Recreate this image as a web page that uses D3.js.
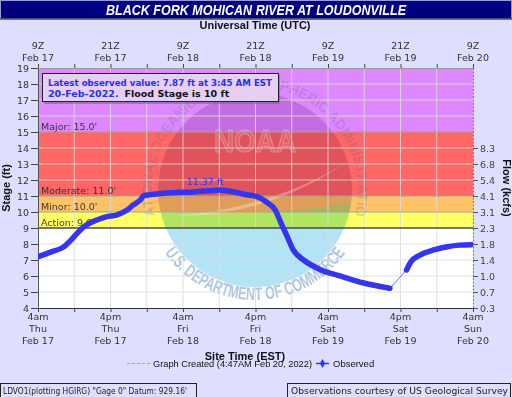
<!DOCTYPE html>
<html>
<head>
<meta charset="utf-8">
<script src="https://cdn.jsdelivr.net/npm/d3@7"></script>
<style>
  body { margin: 0; background: #dedeff; }
  svg { display: block; font-family: "DejaVu Sans", sans-serif; }
</style>
</head>
<body>
<div id="chart"></div>
<script>
// observed stage, EST times
var obsTimesA = [
  "2022-02-17T04:00", "2022-02-17T06:00", "2022-02-17T08:15", "2022-02-17T09:45",
  "2022-02-17T11:00", "2022-02-17T12:00", "2022-02-17T13:45", "2022-02-17T15:15",
  "2022-02-17T17:00", "2022-02-17T18:45", "2022-02-17T19:45", "2022-02-17T21:00",
  "2022-02-17T21:30", "2022-02-18T00:45", "2022-02-18T06:15", "2022-02-18T09:00",
  "2022-02-18T10:00", "2022-02-18T11:45", "2022-02-18T14:30", "2022-02-18T16:15",
  "2022-02-18T17:45", "2022-02-18T19:15", "2022-02-18T20:15", "2022-02-18T21:15",
  "2022-02-18T22:15", "2022-02-18T23:45", "2022-02-19T02:00", "2022-02-19T03:30",
  "2022-02-19T05:30", "2022-02-19T09:45", "2022-02-19T14:15"
];
var obsStageA = [
  7.20, 7.48, 7.82, 8.36,
  8.88, 9.19, 9.50, 9.70,
  9.81, 10.12, 10.44, 10.78,
  11.02, 11.17, 11.27, 11.35,
  11.37, 11.30, 11.08, 10.96,
  10.64, 10.13, 9.29, 8.46,
  7.63, 7.05, 6.53, 6.27,
  6.06, 5.58, 5.23
];
var obsTimesB = [
  "2022-02-19T17:00", "2022-02-19T17:45", "2022-02-19T19:15", "2022-02-19T21:30",
  "2022-02-19T23:45", "2022-02-20T01:45", "2022-02-20T03:45"
];
var obsStageB = [6.38, 6.90, 7.31, 7.63, 7.83, 7.93, 7.96];

var stageTicks = [4, 5, 6, 7, 8, 9, 10, 11, 12, 13, 14, 15, 16, 17, 18, 19];
var flowTicks = [4, 5, 6, 7, 8, 9, 10, 11, 12, 13, 14];
var flowLabels = ["0.3", "0.7", "1.0", "1.4", "1.8", "2.3", "3.1", "4.1", "5.4", "6.8", "8.3"];

var floodNames = ["Action", "Minor", "Moderate", "Major"];
var floodStages = [9, 10, 11, 15];
var floodColors = ["#ffff66", "#ffc266", "#ff6666", "#dd88ff"];

var peakTime = "2022-02-18T10:00";
var peakStage = 11.37;

var parseEst = d3.utcParse("%Y-%m-%dT%H:%M");
var segA = obsTimesA.map((t, i) => ({ t: parseEst(t), v: obsStageA[i] }));
var segB = obsTimesB.map((t, i) => ({ t: parseEst(t), v: obsStageB[i] }));

var width = 512, height = 397;
var plotL = 38, plotR = 473, plotT = 68, plotB = 308;

var svg = d3.select("#chart").append("svg")
  .attr("width", width)
  .attr("height", height);

svg.append("rect").attr("width", width).attr("height", height).attr("fill", "#dedeff");

var start = parseEst("2022-02-17T04:00");
var end = parseEst("2022-02-20T04:00");

var x = d3.scaleUtc().domain([start, end]).range([plotL, plotR]);
var y = d3.scaleLinear().domain([4, 19]).range([plotB, plotT]);

// title bar
svg.append("rect").attr("x", 0.5).attr("y", 0.5).attr("width", width - 1).attr("height", 18)
  .attr("fill", "#000080").attr("stroke", "#9a9ad8");
svg.append("line").attr("x1", 0).attr("x2", width).attr("y1", 19).attr("y2", 19).attr("stroke", "#000");
svg.append("text")
  .attr("x", 256).attr("y", 15)
  .attr("text-anchor", "middle")
  .attr("fill", "#fff")
  .attr("font-family", "Liberation Sans, Arial, sans-serif")
  .attr("font-weight", "bold").attr("font-style", "italic")
  .attr("font-size", 14)
  .attr("textLength", 300).attr("lengthAdjust", "spacingAndGlyphs")
  .text("BLACK FORK MOHICAN RIVER AT LOUDONVILLE");

svg.append("text")
  .attr("x", 255).attr("y", 29)
  .attr("text-anchor", "middle")
  .attr("font-family", "Liberation Sans, Arial, sans-serif")
  .attr("font-weight", "bold").attr("font-size", 11)
  .attr("fill", "#111")
  .text("Universal Time (UTC)");

// plot background + flood bands
var plot = svg.append("g");
plot.append("rect").attr("x", plotL).attr("y", plotT)
  .attr("width", plotR - plotL).attr("height", plotB - plotT).attr("fill", "#fff");

var bandTops = floodStages.slice(1).concat([19]);
plot.selectAll(".band")
  .data(floodStages)
  .enter()
  .append("rect")
  .attr("class", "band")
  .attr("x", plotL)
  .attr("width", plotR - plotL)
  .attr("y", (d, i) => y(bandTops[i]))
  .attr("height", (d, i) => y(d) - y(bandTops[i]))
  .attr("fill", (d, i) => floodColors[i]);

// NOAA watermark
svg.append("clipPath").attr("id", "plotclip")
  .append("rect").attr("x", plotL).attr("y", plotT).attr("width", plotR - plotL).attr("height", plotB - plotT);
var cx = 255, cy = 190, r = 97;
svg.append("clipPath").attr("id", "diskclip")
  .append("circle").attr("cx", cx).attr("cy", cy).attr("r", r);

var wm = svg.append("g");
wm.append("path")
  .attr("clip-path", "url(#diskclip)")
  .attr("d", `M${cx - r},${cy - r} L${cx + r},${cy - r} L${cx + r},${cy + 12} Q${cx},${cy + 30} ${cx - r},${cy + 22} Z`)
  .attr("fill", "#e0cfe0").style("mix-blend-mode", "multiply");
wm.append("path")
  .attr("clip-path", "url(#diskclip)")
  .attr("d", `M${cx - r},${cy + 22} Q${cx},${cy + 30} ${cx + r},${cy + 12} L${cx + r},${cy + r} L${cx - r},${cy + r} Z`)
  .attr("fill", "#b2e4f6").style("mix-blend-mode", "multiply");
wm.append("path")
  .attr("clip-path", "url(#diskclip)")
  .attr("d", `M${cx - 80},${cy + 26} Q${cx + 10},${cy + 28} ${cx + 95},${cy - 30} Q${cx + 20},${cy + 18} ${cx - 80},${cy + 26} Z`)
  .attr("fill", "#fff").attr("opacity", 0.3);
wm.append("text")
  .attr("x", cx).attr("y", 152)
  .attr("text-anchor", "middle")
  .attr("font-family", "Liberation Sans, Arial, sans-serif")
  .attr("font-weight", "bold").attr("font-size", 32)
  .attr("fill", "#fff").attr("fill-opacity", 0.1)
  .attr("stroke", "#fff").attr("stroke-opacity", 0.25).attr("stroke-width", 1.2)
  .attr("textLength", 82).attr("lengthAdjust", "spacingAndGlyphs")
  .text("NOAA");

function polar(rad, deg) {
  var a = deg * Math.PI / 180;
  return [cx + rad * Math.cos(a), cy + rad * Math.sin(a)];
}
var rt = 103, p1 = polar(rt, 165), p2 = polar(rt, 15);
svg.append("path").attr("id", "toparc").attr("fill", "none")
  .attr("d", `M${p1[0]},${p1[1]} A${rt},${rt} 0 1 1 ${p2[0]},${p2[1]}`);
var rb = 110, q1 = polar(rb, 150), q2 = polar(rb, 30);
svg.append("path").attr("id", "botarc").attr("fill", "none")
  .attr("d", `M${q1[0]},${q1[1]} A${rb},${rb} 0 0 0 ${q2[0]},${q2[1]}`);

wm.append("text")
  .attr("font-family", "Liberation Sans, Arial, sans-serif")
  .attr("font-weight", "bold").attr("font-size", 14)
  .attr("fill", "#5a5a7a").attr("fill-opacity", 0.22)
  .append("textPath").attr("href", "#toparc")
  .attr("startOffset", "50%").attr("text-anchor", "middle")
  .attr("textLength", 395).attr("lengthAdjust", "spacingAndGlyphs")
  .text("NATIONAL OCEANIC AND ATMOSPHERIC ADMINISTRATION");
wm.append("text")
  .attr("font-family", "Liberation Sans, Arial, sans-serif")
  .attr("font-weight", "bold").attr("font-size", 18)
  .attr("fill", "#8aaed2").attr("fill-opacity", 0.7)
  .append("textPath").attr("href", "#botarc")
  .attr("startOffset", "50%").attr("text-anchor", "middle")
  .attr("textLength", 212).attr("lengthAdjust", "spacingAndGlyphs")
  .text("U.S. DEPARTMENT OF COMMERCE");

// grid
var xTicks = d3.utcHour.range(start, d3.utcMinute.offset(end, 1), 6);
var grid = svg.append("g").attr("stroke", "#dadada").attr("stroke-opacity", 0.85);
grid.selectAll(".gx")
  .data(xTicks.slice(1, -1))
  .enter().append("line")
  .attr("x1", d => x(d)).attr("x2", d => x(d))
  .attr("y1", plotT).attr("y2", plotB);
grid.selectAll(".gy")
  .data(stageTicks.slice(1, -1))
  .enter().append("line")
  .attr("x1", plotL).attr("x2", plotR)
  .attr("y1", d => y(d)).attr("y2", d => y(d));

// flood stage lines and labels
svg.selectAll(".fline")
  .data(floodStages)
  .enter().append("line")
  .attr("x1", plotL).attr("x2", plotR)
  .attr("y1", d => y(d)).attr("y2", d => y(d))
  .attr("stroke", "#000")
  .attr("stroke-opacity", (d, i) => i === 0 ? 1 : 0.25);
svg.selectAll(".flabel")
  .data(floodStages)
  .enter().append("text")
  .attr("x", plotL + 3)
  .attr("y", d => y(d) - 2)
  .attr("font-size", 9.5)
  .attr("fill", "#222")
  .attr("fill-opacity", 0.85)
  .text((d, i) => `${floodNames[i]}: ${d.toFixed(1)}'`);

// axes
var yAxis = d3.axisLeft(y).tickValues(stageTicks).tickSize(7).tickPadding(2);
var gy = svg.append("g").attr("transform", `translate(${plotL},0)`).call(yAxis);
gy.selectAll("text").attr("font-size", 9.5).attr("fill", "#333").attr("font-family", "DejaVu Sans");
gy.selectAll("line").attr("stroke", "#444");
gy.select(".domain").attr("stroke", "#555");

var flowAxis = d3.axisRight(y).tickValues(flowTicks).tickSize(5).tickPadding(2)
  .tickFormat((d, i) => flowLabels[i]);
var gf = svg.append("g").attr("transform", `translate(${plotR},0)`).call(flowAxis);
gf.selectAll("text").attr("font-size", 9.5).attr("fill", "#444").attr("font-family", "DejaVu Sans");
gf.selectAll("line").attr("stroke", "#555");
gf.select(".domain").attr("d", `M0.5,${plotT}V${plotB}`).attr("stroke", "#6a6af0").attr("stroke-dasharray", "2,1.5");

var xAxis = d3.axisBottom(x).tickValues(xTicks).tickSize(4).tickFormat("");
var gx = svg.append("g").attr("transform", `translate(0,${plotB})`).call(xAxis);
gx.select(".domain").attr("d", `M${plotL},0.5H${plotR}`).attr("stroke", "#333");
gx.selectAll("line").attr("stroke", "#444");

var xTop = d3.axisTop(x).tickValues(xTicks).tickSize(4).tickFormat("");
var gt = svg.append("g").attr("transform", `translate(0,${plotT})`).call(xTop);
gt.select(".domain").attr("d", `M${plotL},0.5H${plotR}`).attr("stroke", "#999");
gt.selectAll("line").attr("stroke", "#444");

var labelTicks = xTicks.filter((d, i) => i % 2 === 0);
var fmtHour = d3.utcFormat("%-I%p"), fmtDay = d3.utcFormat("%a"), fmtDate = d3.utcFormat("%b %-d");
var bl = svg.append("g").attr("font-size", 9.5).attr("fill", "#333").attr("text-anchor", "middle");
labelTicks.forEach(d => {
  var t = bl.append("text").attr("x", x(d)).attr("y", 320);
  t.append("tspan").attr("x", x(d)).attr("dy", 0).text(fmtHour(d).toLowerCase());
  t.append("tspan").attr("x", x(d)).attr("dy", 12).text(fmtDay(d));
  t.append("tspan").attr("x", x(d)).attr("dy", 12).text(fmtDate(d));
});
var fmtZ = d3.utcFormat("%-HZ");
var tl = svg.append("g").attr("font-size", 9.5).attr("fill", "#333").attr("text-anchor", "middle");
labelTicks.forEach(d => {
  var u = d3.utcHour.offset(d, 5);
  var t = tl.append("text").attr("x", x(d)).attr("y", 49);
  t.append("tspan").attr("x", x(d)).attr("dy", 0).text(fmtZ(u));
  t.append("tspan").attr("x", x(d)).attr("dy", 11.5).text(fmtDate(u));
});

svg.append("text")
  .attr("transform", `translate(10,${(plotT + plotB) / 2}) rotate(-90)`)
  .attr("text-anchor", "middle")
  .attr("font-family", "Liberation Sans, Arial, sans-serif")
  .attr("font-weight", "bold").attr("font-size", 11).attr("fill", "#111")
  .text("Stage (ft)");
svg.append("text")
  .attr("transform", `translate(503,${(plotT + plotB) / 2}) rotate(90)`)
  .attr("text-anchor", "middle")
  .attr("font-family", "Liberation Sans, Arial, sans-serif")
  .attr("font-weight", "bold").attr("font-size", 11).attr("fill", "#111")
  .text("Flow (kcfs)");

// info box
svg.append("rect").attr("x", 44).attr("y", 75).attr("width", 236).attr("height", 29).attr("fill", "#7a6a8a").attr("opacity", 0.6);
svg.append("rect").attr("x", 42.5).attr("y", 73.5).attr("width", 236).attr("height", 28)
  .attr("fill", "#e6cff2").attr("stroke", "#222");
var info = svg.append("g").attr("font-weight", "bold").attr("font-size", 9.5);
info.append("text").attr("x", 48).attr("y", 86).attr("fill", "#2233ee")
  .attr("textLength", 224).attr("lengthAdjust", "spacingAndGlyphs")
  .text("Latest observed value: 7.87 ft at 3:45 AM EST");
var l2 = info.append("text").attr("x", 48).attr("y", 97);
l2.append("tspan").attr("fill", "#2233ee").text("20-Feb-2022.");
l2.append("tspan").attr("fill", "#111").attr("dx", 6).text("Flood Stage is 10 ft");

// observed series
var line = d3.line().x(d => x(d.t)).y(d => y(d.v)).curve(d3.curveMonotoneX);
var obs = svg.append("g").attr("clip-path", "url(#plotclip)");
obs.append("path")
  .datum([segA[segA.length - 1], segB[0]])
  .attr("d", line).attr("fill", "none").attr("stroke", "#6a6aff").attr("stroke-width", 1);
[segA, segB].forEach(seg => {
  obs.append("path")
    .datum(seg)
    .attr("d", line)
    .attr("fill", "none")
    .attr("stroke", "#3535f0")
    .attr("stroke-width", 5.5)
    .attr("stroke-linecap", "round")
    .attr("stroke-linejoin", "round");
});

svg.append("text")
  .attr("x", x(parseEst(peakTime)) - 14).attr("y", y(peakStage) - 5)
  .attr("text-anchor", "middle")
  .attr("font-size", 9.5).attr("fill", "#3535f0")
  .text(`${peakStage} ft`);

// x title + legend
svg.append("text")
  .attr("x", 245).attr("y", 360)
  .attr("text-anchor", "middle")
  .attr("font-family", "Liberation Sans, Arial, sans-serif")
  .attr("font-weight", "bold").attr("font-size", 11).attr("fill", "#111")
  .text("Site Time (EST)");

var lg = svg.append("g").attr("font-family", "Liberation Sans, Arial, sans-serif").attr("font-size", 9.5).attr("fill", "#111");
lg.append("line").attr("x1", 127).attr("x2", 150).attr("y1", 363.5).attr("y2", 363.5)
  .attr("stroke", "#9a9af0").attr("stroke-dasharray", "3,2");
lg.append("text").attr("x", 153).attr("y", 367)
  .attr("textLength", 159).attr("lengthAdjust", "spacingAndGlyphs")
  .text("Graph Created (4:47AM Feb 20, 2022)");
lg.append("line").attr("x1", 316).attr("x2", 329).attr("y1", 363.5).attr("y2", 363.5)
  .attr("stroke", "#3535f0").attr("stroke-width", 1.5);
lg.append("path").attr("d", d3.symbol(d3.symbolDiamond, 24)()).attr("transform", "translate(322.5,363.5)").attr("fill", "#3535f0");
lg.append("text").attr("x", 333).attr("y", 367).text("Observed");

// footer boxes
svg.append("rect").attr("x", 0.5).attr("y", 383.5).attr("width", 196).attr("height", 16)
  .attr("fill", "none").attr("stroke", "#222");
svg.append("rect").attr("x", 287.5).attr("y", 383.5).attr("width", 223).attr("height", 16)
  .attr("fill", "none").attr("stroke", "#222");
svg.append("text").attr("x", 3).attr("y", 394).attr("font-size", 9).attr("fill", "#222")
  .attr("textLength", 184).attr("lengthAdjust", "spacingAndGlyphs")
  .text("LDVO1(plotting HGIRG) \"Gage 0\" Datum: 929.16'");
svg.append("text").attr("x", 291).attr("y", 394).attr("font-size", 9).attr("fill", "#222")
  .attr("textLength", 217).attr("lengthAdjust", "spacingAndGlyphs")
  .text("Observations courtesy of US Geological Survey");
</script>
</body>
</html>
